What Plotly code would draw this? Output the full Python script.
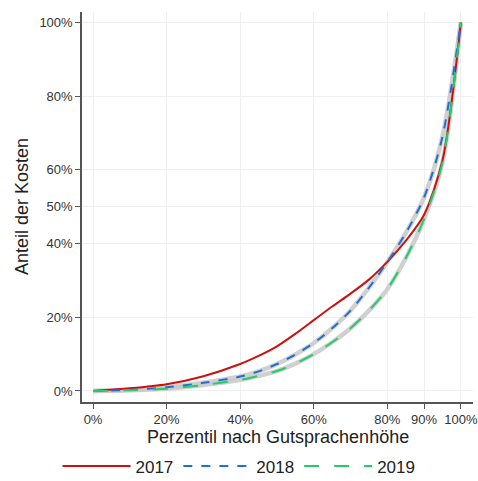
import plotly.graph_objects as go

pct = [0, 10, 20, 30, 40, 45, 50, 55, 60, 65, 70, 75, 80, 85, 90, 95, 100]
y2017 = [0, 0.7, 1.8, 4.0, 7.3, 9.5, 12.1, 15.5, 19.2, 22.9, 26.4, 30.2, 35.0, 40.7, 47.8, 62.5, 100]
y2018 = [0, 0.3, 1.0, 2.2, 3.9, 5.3, 7.3, 9.9, 13.0, 17.0, 21.8, 28.0, 35.0, 42.8, 52.5, 69.0, 100]
y2019 = [0, 0.2, 0.6, 1.6, 3.0, 4.1, 5.4, 7.4, 10.0, 13.2, 17.0, 21.8, 27.6, 36.0, 46.6, 62.0, 100]

xticks = [0, 20, 40, 60, 80, 90, 100]
yticks = [0, 20, 40, 50, 60, 80, 100]

fig = go.Figure()
for ys in (y2018, y2019):
    fig.add_trace(go.Scatter(x=pct, y=ys, mode="lines", line=dict(color="rgba(200,200,200,0.85)", width=4.5, shape="spline", smoothing=0.8),
                             showlegend=False, hoverinfo="skip"))
fig.add_trace(go.Scatter(x=pct, y=y2017, mode="lines", name="2017",
                         line=dict(color="#cc1111", width=2, shape="spline", smoothing=0.8)))
fig.add_trace(go.Scatter(x=pct, y=y2018, mode="lines", name="2018",
                         line=dict(color="#1f6fd6", width=2, dash="dash", shape="spline", smoothing=0.8)))
fig.add_trace(go.Scatter(x=pct, y=y2019, mode="lines", name="2019",
                         line=dict(color="#22cc66", width=2, dash="longdash", shape="spline", smoothing=0.8)))

font = "Liberation Sans, Arial, sans-serif"
fig.update_layout(
    width=478, height=481,
    margin=dict(l=82, r=5, t=12, b=79, autoexpand=False),
    paper_bgcolor="white", plot_bgcolor="white",
    font=dict(family=font, color="#333333"),
    showlegend=True,
    legend=dict(orientation="h", x=0.5, xanchor="center", xref="container",
                y=0.03, yanchor="middle", yref="container",
                font=dict(size=17, color="#222222"), itemwidth=68),
    xaxis=dict(range=[-3, 103.3], tickvals=xticks, ticktext=[f"{v}%" for v in xticks],
               showgrid=True, gridcolor="#efefef", zeroline=False,
               showline=True, linecolor="#555555", linewidth=1.5,
               ticks="outside", ticklen=5, tickcolor="#555555",
               tickfont=dict(size=13, color="#333333")),
    yaxis=dict(range=[-3, 102.8], tickvals=yticks, ticktext=[f"{v}%" for v in yticks],
               showgrid=True, gridcolor="#efefef", zeroline=False,
               showline=True, linecolor="#555555", linewidth=1.5,
               ticks="outside", ticklen=5, tickcolor="#555555",
               tickfont=dict(size=13, color="#333333")),
    annotations=[
        dict(text="Perzentil nach Gutsprachenhöhe", xref="paper", yref="paper",
             x=0.5, y=-(437 - 402) / 390, xanchor="center", yanchor="middle",
             showarrow=False, font=dict(size=18, color="#222222")),
        dict(text="Anteil der Kosten", xref="paper", yref="paper",
             x=-(82 - 22) / 391, y=(402 - 207) / 390, xanchor="center", yanchor="middle",
             textangle=-90, showarrow=False, font=dict(size=18, color="#222222")),
    ],
)
fig.write_html("out.html")
